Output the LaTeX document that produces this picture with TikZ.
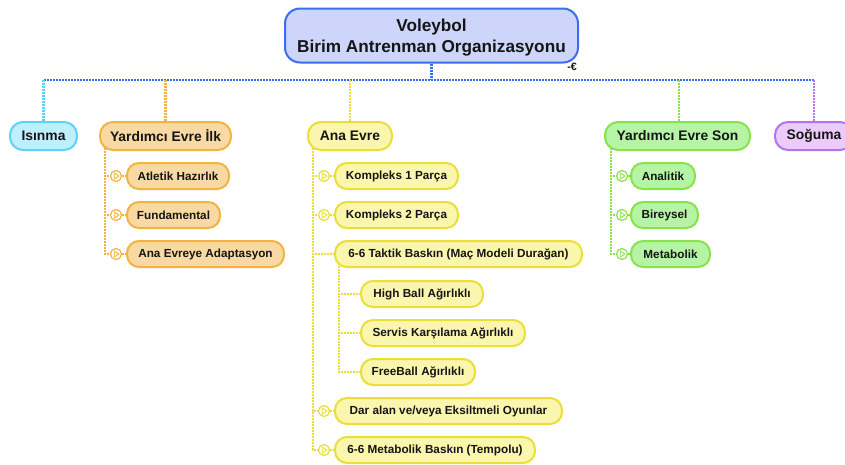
\documentclass[tikz,border=0pt]{standalone}
\usepackage{fontspec}
\setmainfont{Liberation Sans}
\usetikzlibrary{backgrounds}
% branch palettes: fill, border
\definecolor{rootfill}{HTML}{CDD5FA}\definecolor{rootline}{HTML}{3C6CF0}
\definecolor{cyfill}{HTML}{BDEFFD}\definecolor{cyline}{HTML}{5FD3F6}
\definecolor{orfill}{HTML}{F9D9A3}\definecolor{orline}{HTML}{F2B341}
\definecolor{yefill}{HTML}{FBF6AE}\definecolor{yeline}{HTML}{EADF38}
\definecolor{grfill}{HTML}{B5F4A5}\definecolor{grline}{HTML}{88E24A}
\definecolor{pufill}{HTML}{EACBF9}\definecolor{puline}{HTML}{B273EC}
\definecolor{ink}{HTML}{151515}
\begin{document}
\begin{tikzpicture}[x=0.75pt,y=-0.75pt,
  wh/.style 2 args={minimum width=#1*0.75pt,minimum height=#2*0.75pt},
  box/.style={draw,line width=2*0.75pt,inner sep=0pt,text=ink,font=\bfseries},
  rootbox/.style={box,fill=rootfill,draw=rootline,rounded corners=15*0.75pt,
    align=center,font=\bfseries\fontsize{12.9pt}{16pt}\selectfont},
  topic/.style={box,rounded corners=13*0.75pt,font=\bfseries\fontsize{10.4pt}{12pt}\selectfont},
  leaf/.style={box,rounded corners=12*0.75pt,font=\bfseries\fontsize{8.8pt}{10pt}\selectfont},
  cy/.style={fill=cyfill,draw=cyline},
  or/.style={fill=orfill,draw=orline},
  ye/.style={fill=yefill,draw=yeline},
  gr/.style={fill=grfill,draw=grline},
  pu/.style={fill=pufill,draw=puline},
  link/.style={line width=2.5*0.75pt,dash pattern=on 2*0.75pt off 1*0.75pt},
  icon/.style={circle,draw=#1,fill=white,line width=1.2*0.75pt,minimum size=11*0.75pt,inner sep=0pt,
    path picture={\draw[#1,line width=0.9*0.75pt,line join=round]
      ([shift={(-1.8,-3)}]path picture bounding box.center) --
      ([shift={(-1.8,3)}]path picture bounding box.center) --
      ([shift={(3,0)}]path picture bounding box.center) -- cycle;}},
]
\useasboundingbox (0,0) rectangle (845,464);
\clip (0,0) rectangle (845,464);

% root
\node[rootbox,wh={293}{54}] (root) at (431.5,35.5) {\rule{0pt}{12pt}Voleybol\\Birim Antrenman Organizasyonu};
\node[font=\bfseries\fontsize{8pt}{8pt}\selectfont,text=ink,inner sep=0pt] (fold) at (572,67) {-€};

% main phases
\node[topic,cy,wh={67}{28}] (isin) at (43.5,136) {Isınma};
\node[topic,or,wh={131}{28}] (yil) at (165.5,136) {Yardımcı Evre İlk};
\node[topic,ye,wh={84}{28}] (ana) at (350,136) {Ana Evre};
\node[topic,gr,wh={145}{28}] (yson) at (677.5,136) {Yardımcı Evre Son};
\node[topic,pu,wh={78}{28}] (sog) at (814,136) {Soğuma};

% Yardımcı Evre İlk
\node[leaf,or,wh={102}{26}] (a1) at (178,176) {Atletik Hazırlık};
\node[leaf,or,wh={93}{26}] (a2) at (173.5,215) {Fundamental};
\node[leaf,or,wh={157}{26}] (a3) at (205.5,254) {Ana Evreye Adaptasyon};
\node[icon=orline] (a1i) at (116,176) {};
\node[icon=orline] (a2i) at (116,215) {};
\node[icon=orline] (a3i) at (116,254) {};

% Ana Evre
\node[leaf,ye,wh={123}{26}] (k1) at (396.5,176) {Kompleks 1 Parça};
\node[leaf,ye,wh={123}{26}] (k2) at (396.5,215) {Kompleks 2 Parça};
\node[leaf,ye,wh={247}{26}] (t6) at (458.5,254) {6-6 Taktik Baskın (Maç Modeli Durağan)};
\node[leaf,ye,wh={122}{26}] (h1) at (422,294) {High Ball Ağırlıklı};
\node[leaf,ye,wh={164}{26}] (h2) at (443,333) {Servis Karşılama Ağırlıklı};
\node[leaf,ye,wh={114}{26}] (h3) at (418,372) {FreeBall Ağırlıklı};
\node[leaf,ye,wh={227}{26}] (d1) at (448.5,411) {Dar alan ve/veya Eksiltmeli Oyunlar};
\node[leaf,ye,wh={200}{26}] (m6) at (435,450) {6-6 Metabolik Baskın (Tempolu)};
\node[icon=yeline] (k1i) at (324,176) {};
\node[icon=yeline] (k2i) at (324,215) {};
\node[icon=yeline] (d1i) at (324,411) {};
\node[icon=yeline] (m6i) at (324,450) {};

% Yardımcı Evre Son
\node[leaf,gr,wh={64}{26}] (g1) at (663,176) {Analitik};
\node[leaf,gr,wh={67}{26}] (g2) at (664.5,215) {Bireysel};
\node[leaf,gr,wh={79}{26}] (g3) at (670.5,254) {Metabolik};
\node[icon=grline] (g1i) at (622,176) {};
\node[icon=grline] (g2i) at (622,215) {};
\node[icon=grline] (g3i) at (622,254) {};

\begin{scope}[on background layer]
  % bus under the root
  \coordinate (busL) at (43.5,80);
  \coordinate (busR) at (814,80);
  \draw[link,rootline] (busL) -- (busR);
  \draw[link,rootline] (root) -- (root |- busL);
  \draw[link,cyline] (isin) -- (isin |- busL);
  \draw[link,orline] (yil) -- (yil |- busL);
  \draw[link,yeline] (ana) -- (ana |- busL);
  \draw[link,grline] (yson.center) ++(1.5,0) coordinate (ysonT) -- (ysonT |- busL);
  \draw[link,puline] (sog) -- (sog |- busL);

  % Yardımcı Evre İlk children
  \coordinate (yilT) at ([xshift=6*0.75pt]yil.west);
  \foreach \c in {a1,a2,a3} {
    \draw[link,orline] (yilT) |- (\c i.west);
    \draw[link,orline] (\c i.east) -- (\c.west);
  }

  % Ana Evre children
  \coordinate (anaT) at ([xshift=6*0.75pt]ana.west);
  \foreach \c in {k1,k2,d1,m6} {
    \draw[link,yeline] (anaT) |- (\c i.west);
    \draw[link,yeline] (\c i.east) -- (\c.west);
  }
  \draw[link,yeline] (anaT) |- (t6.west);
  \coordinate (t6T) at ([xshift=5*0.75pt]t6.west);
  \foreach \c in {h1,h2,h3} {
    \draw[link,yeline] (t6T) |- (\c.west);
  }

  % Yardımcı Evre Son children
  \coordinate (ysonL) at ([xshift=7*0.75pt]yson.west);
  \foreach \c in {g1,g2,g3} {
    \draw[link,grline] (ysonL) |- (\c i.west);
    \draw[link,grline] (\c i.east) -- (\c.west);
  }
\end{scope}
\end{tikzpicture}
\end{document}
